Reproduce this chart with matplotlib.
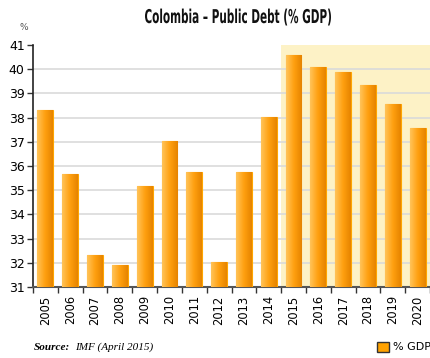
import numpy as np
import matplotlib
matplotlib.use("Agg")
from matplotlib import pyplot as plt
from matplotlib.colors import LinearSegmentedColormap
from matplotlib.textpath import TextPath
from matplotlib.patches import PathPatch
from matplotlib.font_manager import FontProperties
from matplotlib.transforms import Affine2D

years = ["2005", "2006", "2007", "2008", "2009", "2010", "2011", "2012",
         "2013", "2014", "2015", "2016", "2017", "2018", "2019", "2020"]
debt = [38.3, 35.67, 32.31, 31.9, 35.19, 37.02, 35.74, 32.05,
        35.75, 38.01, 40.57, 40.08, 39.87, 39.33, 38.56, 37.56]
forecast_start = "2015"
title = "Colombia \u2013 Public Debt (% GDP)"

W, H = 430, 358
fig = plt.figure(figsize=(W / 100, H / 100), dpi=100)
ax = fig.add_axes([33 / W, 1 - 287 / H, 397 / W, 242 / H])

x = np.arange(len(years))
bars = ax.bar(x, debt, width=0.64, color="#F59A00",
              edgecolor="#FFA500", linewidth=0.8, zorder=3)

# horizontal gradient on each bar
cmap = LinearSegmentedColormap.from_list("og", ["#FFC45A", "#FFA010", "#E68400"])
grad = np.linspace(0, 1, 64).reshape(1, -1)
for b in bars:
    bx, bw, bh = b.get_x(), b.get_width(), b.get_height()
    im = ax.imshow(grad, cmap=cmap, aspect="auto", zorder=3.5,
                   extent=(bx, bx + bw, 31, bh), interpolation="bicubic")
    im.set_clip_path(b)

# forecast shading
i0 = years.index(forecast_start)
ax.axvspan(i0 - 0.5, len(years) - 0.5, color="#FDF2C6", zorder=1, lw=0)

for v in range(32, 41):
    ax.axhline(v, color="#DADADA", lw=1.2, zorder=2)

ax.set_xlim(-0.5, len(years) - 0.5)
ax.set_ylim(31, 41)
ax.set_yticks(range(31, 42))
ax.set_xticks(x)
ax.set_xticklabels(years, rotation=90, fontsize=8.3)
ax.set_xticks(np.arange(-0.5, len(years)), minor=True)
ax.tick_params(axis="x", which="major", length=0, pad=6)
ax.tick_params(axis="x", which="minor", length=4, width=1, color="#333333")
ax.tick_params(axis="y", length=4, width=1, labelsize=9, color="#333333", pad=2)

for s in ["top", "right"]:
    ax.spines[s].set_visible(False)
ax.spines["left"].set_color("#222222")
ax.spines["bottom"].set_color("#555555")
ax.spines["left"].set_linewidth(1.2)
ax.spines["bottom"].set_linewidth(1.5)

fig.text(24 / W, 1 - 28 / H, "%", fontsize=6.5, color="#555555",
         ha="center", va="center")

# condensed bold title
tp = TextPath((0, 0), title, size=19,
              prop=FontProperties(family="DejaVu Sans", weight="bold"))
ext = tp.get_extents()
sx = 186 / ext.width
tr = Affine2D().scale(sx, 1).translate(238 - ext.width * sx / 2 - ext.x0 * sx,
                                       H - 23)
fig.patches.append(PathPatch(tp, transform=tr, facecolor="#111111",
                             edgecolor="none"))

fig.text(34 / W, 1 - 347 / H, "Source:", fontsize=8, fontweight="bold",
         style="italic", family="Liberation Serif", va="center")
fig.text(75 / W, 1 - 347 / H, "IMF (April 2015)", fontsize=8,
         style="italic", family="Liberation Serif", va="center")

fig.patches.append(plt.Rectangle((377 / W, 1 - 352 / H), 12 / W, 10 / H,
                                 transform=fig.transFigure, facecolor="#FFA200",
                                 edgecolor="#333333", lw=1))
fig.text(393 / W, 1 - 347 / H, "% GDP", fontsize=8, va="center")

fig.savefig("out.png", dpi=100)
